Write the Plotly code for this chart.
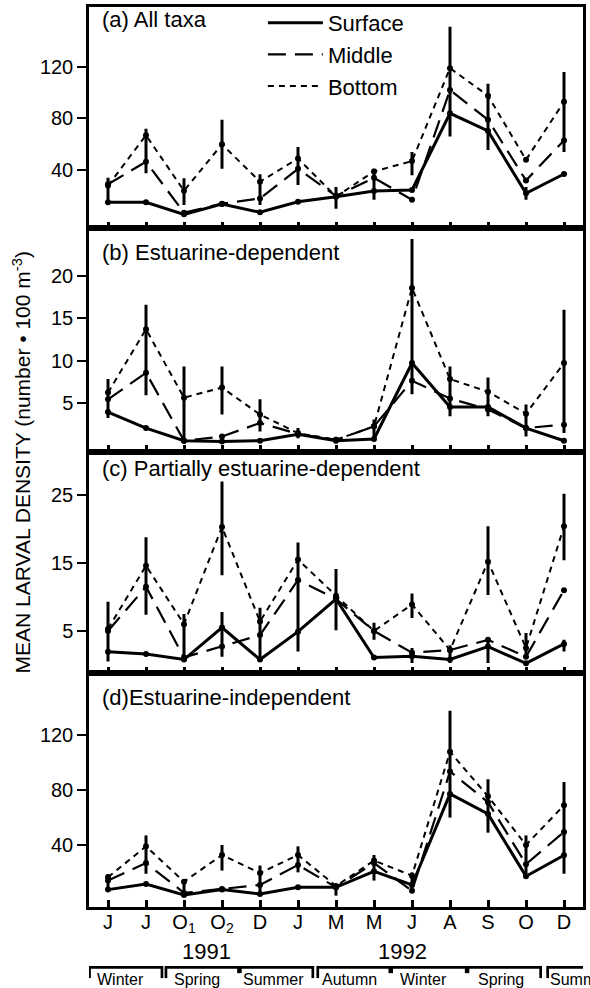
import plotly.graph_objects as go

# ---------------- data ----------------
months = ["J", "J", "O<sub>1</sub>", "O<sub>2</sub>", "D", "J", "M", "M", "J", "A", "S", "O", "D"]
idx = list(range(13))

# (a) All taxa
a_surface = [15, 15, 5.7, 13.7, 7.3, 15.5, 19.4, 23.8, 24.6, 84, 70.3, 22, 37]
a_middle = [29, 46.5, 7, 14, 18, 41, 20, 34, 17, 102, 79, 32, 63]
a_bottom = [28, 67, 24, 60, 31, 49, 19.5, 39, 47, 119, 97.7, 48, 93]
a_bar_x = [0, 1, 2, 3, 4, 5, 6, 7, 8, 9, 10, 11, 12]
a_bar_lo = [13, 37.5, 13, 41, 13, 28.4, 10, 17, 36, 66, 55.6, 17, 54]
a_bar_hi = [34, 72, 33.6, 79, 36.7, 58, 27, 41, 54, 151, 107, 27, 116]

# (b) Estuarine-dependent
b_surface = [3.9, 2.0, 0.5, 0.4, 0.5, 1.25, 0.5, 0.7, 9.7, 4.5, 4.5, 2.0, 0.5]
b_middle = [5.4, 8.55, 0.5, 1.0, 2.6, 1.3, 0.6, 2.2, 7.6, 5.5, 4.2, 2.0, 2.4]
b_bottom = [6.2, 13.7, 5.6, 6.8, 3.6, 1.4, 0.6, 2.2, 18.6, 7.8, 6.3, 3.7, 9.7]
b_bar_x = [0, 1, 2, 3, 4, 5, 6, 7, 8, 9, 10, 11, 12]
b_bar_lo = [3.2, 5.9, 0.3, 3.6, 1.6, 0.8, 0.2, 0.7, 6.0, 3.4, 3.4, 1.0, 1.4]
b_bar_hi = [7.8, 16.6, 9.3, 9.3, 5.4, 2.0, 0.8, 3.0, 24.4, 9.3, 8.0, 4.8, 16]

# (c) Partially estuarine-dependent
c_surface = [1.96, 1.6, 0.8, 5.5, 0.8, 4.9, 9.7, 1.1, 1.3, 0.8, 2.7, 0.25, 3.1]
c_middle = [5.0, 11.5, 1.1, 2.7, 4.4, 12.5, 9.7, 5.0, 1.8, 2.2, 3.7, 1.2, 11.0]
c_bottom = [5.3, 14.6, 6.0, 20.3, 6.4, 15.5, 10.2, 5.0, 8.9, 2.2, 15.2, 2.5, 20.4]
c_bar_x = [0, 1, 2, 3, 3, 4, 5, 6, 7, 8, 8, 9, 10, 10, 11, 12, 12]
c_bar_lo = [0.5, 7.4, 0.8, 13.2, 1.2, 0.7, 2.0, 5.1, 3.7, 6.9, 0.3, 0.3, 10.3, 0.3, 1.5, 15.4, 2.0]
c_bar_hi = [9.3, 18.8, 7.5, 27.0, 7.8, 8.4, 18.0, 14.1, 6.2, 10.5, 2.5, 2.9, 20.4, 3.9, 4.7, 25.2, 3.7]

# (d) Estuarine-independent
d_surface = [7.4, 11.5, 3.5, 7.4, 4.2, 9.1, 9.1, 20.8, 10.8, 77.3, 62.7, 17.1, 32.5]
d_middle = [14, 26.8, 5, 7.8, 10.8, 25.4, 9.1, 26.8, 6.5, 93.7, 71.2, 26, 49.5]
d_bottom = [16.4, 39, 13.2, 32.7, 19.5, 32.7, 10, 28.6, 17.6, 108, 75.6, 40, 69]
d_bar_x = [0, 1, 2, 3, 4, 5, 6, 7, 8, 9, 10, 11, 12]
d_bar_lo = [7.8, 19, 4, 21.3, 3, 20, 3, 14, 8, 60, 49, 19, 19]
d_bar_hi = [18.8, 47, 15, 40, 25, 39, 10, 32.7, 20, 138, 88, 47, 86]

panel_titles = ["(a) All taxa", "(b) Estuarine-dependent",
                "(c) Partially estuarine-dependent", "(d)Estuarine-independent"]
y_ranges = [[-5.1, 166.4], [-0.8, 25.66], [-1.22, 31.37], [-5.3, 165.4]]
y_ticks = [[40, 80, 120], [5, 10, 15, 20], [5, 15, 25], [40, 80, 120]]

years = ["1991", "1992"]
year_x = [2.595, 7.752]

season_names = ["Winter", "Spring", "Summer", "Autumn", "Winter", "Spring", "Summer"]
season_text_x = [0.337, 2.353, 4.365, 6.363, 8.309, 10.334, 11.583]
# bracket groups (in x-axis units): start, end, internal season boundaries
bracket_groups = [(-0.486, 1.42, []), (1.525, 5.39, [3.458]),
                  (5.52, 11.386, [7.44, 9.45]), (11.57, 12.9, [])]

series_names = ["Surface", "Middle", "Bottom"]
series_dash = ["solid", "18px,9px", "6px,5px"]
series_width = [3, 2.2, 2]

panels = [
    (a_surface, a_middle, a_bottom, a_bar_x, a_bar_lo, a_bar_hi),
    (b_surface, b_middle, b_bottom, b_bar_x, b_bar_lo, b_bar_hi),
    (c_surface, c_middle, c_bottom, c_bar_x, c_bar_lo, c_bar_hi),
    (d_surface, d_middle, d_bottom, d_bar_x, d_bar_lo, d_bar_hi),
]

# --------------- figure ---------------
FONT = "Liberation Sans, Arial, Helvetica, sans-serif"
fig = go.Figure()

domains = [[0.7541, 1.0], [0.5059, 0.7541], [0.2597, 0.5059], [0.0, 0.2597]]

for p, (s, m, b, bx, blo, bhi) in enumerate(panels):
    sfx = "" if p == 0 else str(p + 1)
    xa, ya = "x" + sfx, "y" + sfx
    for k, vals in enumerate([s, m, b]):
        fig.add_trace(go.Scatter(
            x=idx, y=vals, mode="lines", name=series_names[k],
            line=dict(color="black", width=series_width[k], dash=series_dash[k]),
            xaxis=xa, yaxis=ya, showlegend=(p == 0), legendgroup=series_names[k],
            hoverinfo="skip"))
        fig.add_trace(go.Scatter(
            x=idx, y=vals, mode="markers",
            marker=dict(color="black", size=6),
            xaxis=xa, yaxis=ya, showlegend=False, hoverinfo="skip"))
    centers = [(lo + hi) / 2 for lo, hi in zip(blo, bhi)]
    halves = [(hi - lo) / 2 for lo, hi in zip(blo, bhi)]
    fig.add_trace(go.Scatter(
        x=bx, y=centers, mode="markers",
        marker=dict(size=1, color="rgba(0,0,0,0)"),
        error_y=dict(type="data", array=halves, symmetric=True,
                     color="black", thickness=3, width=0),
        xaxis=xa, yaxis=ya, showlegend=False, hoverinfo="skip"))

layout = dict(
    width=590, height=988,
    margin=dict(l=89, r=7, t=7, b=81, autoexpand=False),
    paper_bgcolor="white", plot_bgcolor="white",
    font=dict(family=FONT, color="black", size=20),
    showlegend=True,
    legend=dict(x=0.352, y=0.998, yref="container", xanchor="left", yanchor="top",
                bgcolor="rgba(0,0,0,0)", font=dict(size=22, family=FONT),
                itemwidth=55, traceorder="grouped", tracegroupgap=0,
                borderwidth=0),
)

for p in range(4):
    sfx = "" if p == 0 else str(p + 1)
    xdict = dict(
        domain=[0, 1], anchor="y" + sfx, range=[-0.5, 12.5],
        tickmode="array", tickvals=idx,
        ticktext=months if p == 3 else [""] * 13,
        showticklabels=(p == 3),
        ticks="inside", ticklen=7, tickwidth=2.5, tickcolor="black",
        showline=True, linewidth=2.5, linecolor="black", mirror=True,
        showgrid=False, zeroline=False, fixedrange=True,
        tickfont=dict(size=20, family=FONT),
        matches=None if p == 0 else "x")
    if p == 3:
        xdict["ticklabelstandoff"] = -5
    layout["xaxis" + sfx] = xdict
    layout["yaxis" + sfx] = dict(
        domain=domains[p], anchor="x" + sfx, range=y_ranges[p],
        tickmode="array", tickvals=y_ticks[p],
        ticks="outside", ticklen=9, tickwidth=2, tickcolor="black",
        showline=True, linewidth=2.5, linecolor="black", mirror=True,
        showgrid=False, zeroline=False, fixedrange=True,
        tickfont=dict(size=20, family=FONT))

fig.update_layout(**layout)

label_y = [0.9860, 0.7274, 0.4874, 0.2330]
annotations = []
for p in range(4):
    annotations.append(dict(
        text=panel_titles[p], xref="paper", yref="paper",
        x=0.0217, y=label_y[p], xanchor="left", yanchor="middle",
        showarrow=False, font=dict(size=22, family=FONT)))

annotations.append(dict(
    text="MEAN LARVAL DENSITY (number \u2022 100 m<sup>-3</sup>)",
    xref="paper", yref="paper", x=-0.1356, y=0.494,
    xanchor="center", yanchor="middle", textangle=-90,
    showarrow=False, font=dict(size=21, family=FONT)))

for yt, yx in zip(years, year_x):
    annotations.append(dict(
        text=yt, xref="x4", yref="paper", x=yx, y=-0.0495,
        xanchor="center", yanchor="middle", showarrow=False,
        font=dict(size=22, family=FONT)))

for i, (nm, sx) in enumerate(zip(season_names, season_text_x)):
    annotations.append(dict(
        text=nm, xref="x4", yref="paper", x=sx, y=-0.0811,
        xanchor="left" if i == len(season_names) - 1 else "center",
        yanchor="middle", showarrow=False,
        font=dict(size=16, family=FONT)))

fig.update_layout(annotations=annotations)

shapes = []
y_top, y_long, y_short = -0.0670, -0.079, -0.0735
for (x0, x1, inner) in bracket_groups:
    shapes.append(dict(type="line", xref="x4", yref="paper",
                       x0=x0, x1=x1, y0=y_top, y1=y_top,
                       line=dict(color="black", width=2.7)))
    ends = [x0] if x1 > 12.6 else [x0, x1]
    for xe in ends:
        shapes.append(dict(type="line", xref="x4", yref="paper",
                           x0=xe, x1=xe, y0=y_top + 0.0015, y1=y_long,
                           line=dict(color="black", width=2.7)))
    for xi in inner:
        shapes.append(dict(type="line", xref="x4", yref="paper",
                           x0=xi, x1=xi, y0=y_top + 0.0015, y1=y_short,
                           line=dict(color="black", width=4.5)))
fig.update_layout(shapes=shapes)

fig.write_html("out.html")
